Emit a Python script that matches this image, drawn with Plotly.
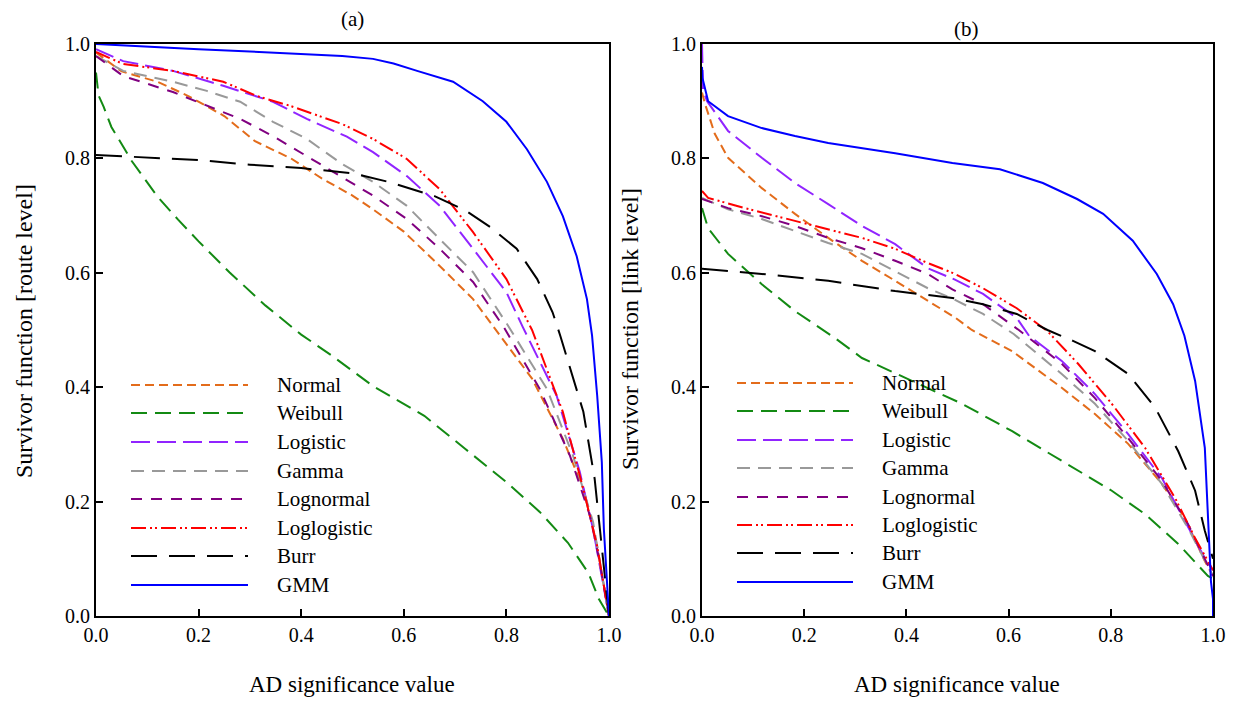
import plotly.graph_objects as go

# ---------------- data: panel (a) route level ----------------
a_normal_x = [0, 0.05, 0.12, 0.18, 0.25, 0.31, 0.38, 0.44, 0.5, 0.54, 0.6, 0.67, 0.735, 0.78, 0.85, 0.91, 0.95, 0.977, 1.0]
a_normal_y = [0.985, 0.952, 0.934, 0.909, 0.874, 0.83, 0.8, 0.765, 0.735, 0.711, 0.672, 0.612, 0.554, 0.5, 0.415, 0.31, 0.222, 0.122, 0.0]

a_weibull_x = [0, 0.005, 0.015, 0.03, 0.07, 0.12, 0.16, 0.2, 0.26, 0.33, 0.4, 0.46, 0.54, 0.64, 0.72, 0.8, 0.865, 0.92, 0.96, 0.98, 1.0]
a_weibull_y = [0.95, 0.91, 0.89, 0.855, 0.795, 0.733, 0.693, 0.655, 0.601, 0.543, 0.492, 0.455, 0.402, 0.35, 0.292, 0.234, 0.182, 0.128, 0.075, 0.03, 0.0]

a_logistic_x = [0, 0.053, 0.15, 0.248, 0.345, 0.411, 0.489, 0.54, 0.606, 0.67, 0.735, 0.8, 0.832, 0.898, 0.943, 0.969, 1.0]
a_logistic_y = [0.991, 0.97, 0.953, 0.927, 0.899, 0.869, 0.838, 0.811, 0.769, 0.717, 0.642, 0.566, 0.505, 0.385, 0.252, 0.152, 0.0]

a_gamma_x = [0, 0.053, 0.15, 0.216, 0.281, 0.345, 0.411, 0.48, 0.54, 0.606, 0.67, 0.735, 0.803, 0.879, 0.93, 0.969, 1.0]
a_gamma_y = [0.979, 0.953, 0.934, 0.918, 0.899, 0.864, 0.834, 0.79, 0.759, 0.717, 0.659, 0.601, 0.508, 0.397, 0.28, 0.164, 0.0]

a_lognormal_x = [0, 0.053, 0.15, 0.216, 0.281, 0.345, 0.411, 0.48, 0.54, 0.606, 0.67, 0.735, 0.795, 0.865, 0.924, 0.963, 0.982, 1.0]
a_lognormal_y = [0.979, 0.944, 0.916, 0.892, 0.869, 0.839, 0.804, 0.767, 0.735, 0.694, 0.642, 0.584, 0.505, 0.397, 0.28, 0.175, 0.094, 0.0]

a_loglogistic_x = [0, 0.053, 0.15, 0.248, 0.314, 0.378, 0.48, 0.54, 0.606, 0.67, 0.735, 0.8, 0.85, 0.91, 0.95, 0.977, 1.0]
a_loglogistic_y = [0.986, 0.965, 0.953, 0.934, 0.909, 0.892, 0.86, 0.834, 0.799, 0.746, 0.671, 0.589, 0.5, 0.357, 0.222, 0.122, 0.0]

a_burr_x = [0, 0.1, 0.2, 0.3, 0.4, 0.5, 0.57, 0.66, 0.72, 0.77, 0.82, 0.86, 0.89, 0.905, 0.95, 0.972, 0.986, 1.0]
a_burr_y = [0.806, 0.802, 0.797, 0.789, 0.783, 0.774, 0.759, 0.734, 0.709, 0.679, 0.642, 0.589, 0.531, 0.49, 0.357, 0.24, 0.122, 0.0]

a_gmm_x = [0, 0.1, 0.2, 0.3, 0.4, 0.48, 0.54, 0.58, 0.626, 0.696, 0.754, 0.8, 0.84, 0.879, 0.91, 0.937, 0.957, 0.967, 0.977, 0.986, 0.99, 0.996, 1.0]
a_gmm_y = [1.0, 0.995, 0.991, 0.987, 0.983, 0.979, 0.974, 0.966, 0.953, 0.934, 0.9, 0.864, 0.816, 0.759, 0.699, 0.629, 0.554, 0.49, 0.385, 0.269, 0.152, 0.06, 0.0]

# ---------------- data: panel (b) link level ----------------
b_normal_x = [0, 0.006, 0.025, 0.051, 0.117, 0.182, 0.247, 0.313, 0.378, 0.442, 0.495, 0.528, 0.607, 0.704, 0.769, 0.834, 0.9, 0.945, 0.984, 1.0]
b_normal_y = [0.915, 0.895, 0.843, 0.801, 0.748, 0.703, 0.661, 0.621, 0.586, 0.551, 0.522, 0.5, 0.463, 0.399, 0.353, 0.301, 0.231, 0.171, 0.096, 0.07]

b_weibull_x = [0, 0.012, 0.051, 0.117, 0.182, 0.26, 0.313, 0.411, 0.509, 0.607, 0.704, 0.802, 0.867, 0.932, 0.99, 1.0]
b_weibull_y = [0.713, 0.678, 0.633, 0.58, 0.533, 0.486, 0.451, 0.411, 0.371, 0.323, 0.271, 0.219, 0.178, 0.126, 0.07, 0.065]

b_logistic_x = [0, 0.002, 0.01, 0.051, 0.117, 0.182, 0.247, 0.313, 0.378, 0.442, 0.495, 0.55, 0.616, 0.64, 0.704, 0.769, 0.834, 0.9, 0.945, 0.984, 1.0]
b_logistic_y = [1.0, 0.92, 0.9, 0.848, 0.801, 0.757, 0.72, 0.682, 0.65, 0.608, 0.588, 0.563, 0.521, 0.49, 0.446, 0.388, 0.318, 0.241, 0.166, 0.101, 0.08]

b_gamma_x = [0, 0.051, 0.117, 0.182, 0.247, 0.313, 0.378, 0.442, 0.49, 0.55, 0.61, 0.704, 0.769, 0.834, 0.9, 0.951, 1.0]
b_gamma_y = [0.731, 0.711, 0.694, 0.673, 0.652, 0.633, 0.603, 0.573, 0.555, 0.528, 0.493, 0.423, 0.371, 0.306, 0.231, 0.154, 0.07]

b_lognormal_x = [0, 0.051, 0.117, 0.182, 0.247, 0.313, 0.378, 0.442, 0.49, 0.55, 0.62, 0.704, 0.769, 0.834, 0.9, 0.951, 1.0]
b_lognormal_y = [0.729, 0.713, 0.699, 0.682, 0.661, 0.643, 0.621, 0.598, 0.571, 0.545, 0.5, 0.441, 0.381, 0.311, 0.236, 0.161, 0.07]

b_loglogistic_x = [0, 0.012, 0.084, 0.182, 0.247, 0.313, 0.378, 0.442, 0.49, 0.55, 0.616, 0.676, 0.736, 0.802, 0.867, 0.926, 0.965, 1.0]
b_loglogistic_y = [0.743, 0.731, 0.713, 0.691, 0.677, 0.661, 0.642, 0.617, 0.6, 0.573, 0.538, 0.498, 0.441, 0.371, 0.294, 0.206, 0.136, 0.08]

b_burr_x = [0, 0.117, 0.247, 0.378, 0.49, 0.55, 0.616, 0.676, 0.726, 0.769, 0.834, 0.887, 0.932, 0.965, 0.984, 1.0]
b_burr_y = [0.607, 0.598, 0.586, 0.568, 0.556, 0.545, 0.528, 0.5, 0.481, 0.463, 0.423, 0.364, 0.288, 0.219, 0.149, 0.1]

b_gmm_x = [0, 0.001, 0.012, 0.051, 0.117, 0.182, 0.247, 0.313, 0.378, 0.49, 0.583, 0.667, 0.734, 0.785, 0.843, 0.89, 0.922, 0.944, 0.965, 0.984, 0.99, 0.996, 1.0, 1.0]
b_gmm_y = [0.96, 0.94, 0.9, 0.874, 0.853, 0.839, 0.827, 0.818, 0.809, 0.792, 0.781, 0.757, 0.729, 0.703, 0.656, 0.598, 0.545, 0.49, 0.411, 0.294, 0.178, 0.06, 0.03, 0.0]

series_names = ["Normal", "Weibull", "Logistic", "Gamma", "Lognormal", "Loglogistic", "Burr", "GMM"]
colors = ["#E36C1B", "#138A13", "#9124FF", "#999999", "#800080", "#FF0000", "#000000", "#0000FF"]
dashes = ["9px,5px", "16px,8px", "19px,7px", "13px,8px", "11px,9px",
          "15px,4px,2px,3px,2px,4px", "26px,12px", "solid"]

panel_a = [(a_normal_x, a_normal_y), (a_weibull_x, a_weibull_y), (a_logistic_x, a_logistic_y),
           (a_gamma_x, a_gamma_y), (a_lognormal_x, a_lognormal_y), (a_loglogistic_x, a_loglogistic_y),
           (a_burr_x, a_burr_y), (a_gmm_x, a_gmm_y)]
panel_b = [(b_normal_x, b_normal_y), (b_weibull_x, b_weibull_y), (b_logistic_x, b_logistic_y),
           (b_gamma_x, b_gamma_y), (b_lognormal_x, b_lognormal_y), (b_loglogistic_x, b_loglogistic_y),
           (b_burr_x, b_burr_y), (b_gmm_x, b_gmm_y)]

tick_vals = [0, 0.2, 0.4, 0.6, 0.8, 1.0]
tick_text = ["0.0", "0.2", "0.4", "0.6", "0.8", "1.0"]

# the page body has an 8px margin: the figure is drawn 8px in from the window corner
OFF = 8
W, H = 1235 - 2 * OFF, 706 - 2 * OFF
FONT = "Liberation Serif"

# plot-area geometry in window pixels
L, R, T, B = 96, 1213, 44, 616
PW, PH = R - L, B - T


def px(xp):
    return (xp - L) / PW


def py(yp):
    return (B - yp) / PH


fig = go.Figure()

for panel, (xa, ya) in ((panel_a, ("x", "y")), (panel_b, ("x2", "y2"))):
    for i, (xs, ys) in enumerate(panel):
        fig.add_trace(go.Scatter(
            x=xs, y=ys, mode="lines", name=series_names[i], showlegend=False,
            xaxis=xa, yaxis=ya,
            line=dict(color=colors[i], width=2, dash=dashes[i]),
        ))

axis_common = dict(
    range=[0, 1], tickvals=tick_vals, ticktext=tick_text, automargin=False,
    showgrid=False, zeroline=False, showline=True, mirror=True,
    linecolor="black", linewidth=2, ticks="inside", ticklen=7, tickwidth=2,
    tickcolor="black", tickfont=dict(family=FONT, size=20, color="black"),
)

fig.update_layout(
    width=W, height=H,
    margin=dict(l=L - OFF, r=(W + OFF) - R, t=T - OFF, b=(H + OFF) - B, autoexpand=False),
    paper_bgcolor="white", plot_bgcolor="white",
    font=dict(family=FONT, color="black"),
    xaxis=dict(domain=[0, px(609)], anchor="y", **axis_common),
    yaxis=dict(domain=[0, 1], anchor="x", **axis_common),
    xaxis2=dict(domain=[px(702), 1], anchor="y2", **axis_common),
    yaxis2=dict(domain=[0, 1], anchor="x2", **axis_common),
)

ann = []


def add_text(text, xp, yp, size, angle=0, xanchor="center"):
    ann.append(dict(text=text, x=px(xp), y=py(yp), xref="paper", yref="paper",
                    xanchor=xanchor, yanchor="middle", textangle=angle, showarrow=False,
                    font=dict(size=size, family=FONT, color="black")))


add_text("AD significance value", 352, 684, 23)
add_text("AD significance value", 957, 684, 23)
add_text("Survivor function [route level]", 24, 331, 24, angle=-90)
add_text("Survivor function [link level]", 630, 329, 24, angle=-90)
add_text("(a)", 352, 19, 21)
add_text("(b)", 966, 29, 21)

shapes = []
legends = [
    dict(x0=131, x1=248, tx=275, rows=[385, 413, 442, 471, 499, 528, 556, 585]),
    dict(x0=737, x1=853, tx=880, rows=[383, 411, 440, 468, 497, 525, 553, 582]),
]
for lg in legends:
    for i, name in enumerate(series_names):
        yy = py(lg["rows"][i])
        shapes.append(dict(type="line", xref="paper", yref="paper",
                           x0=px(lg["x0"]), x1=px(lg["x1"]), y0=yy, y1=yy,
                           line=dict(color=colors[i], width=2, dash=dashes[i])))
        add_text(name, lg["tx"], lg["rows"][i], 21, xanchor="left")

fig.update_layout(annotations=ann, shapes=shapes)

fig.write_html("out.html")
